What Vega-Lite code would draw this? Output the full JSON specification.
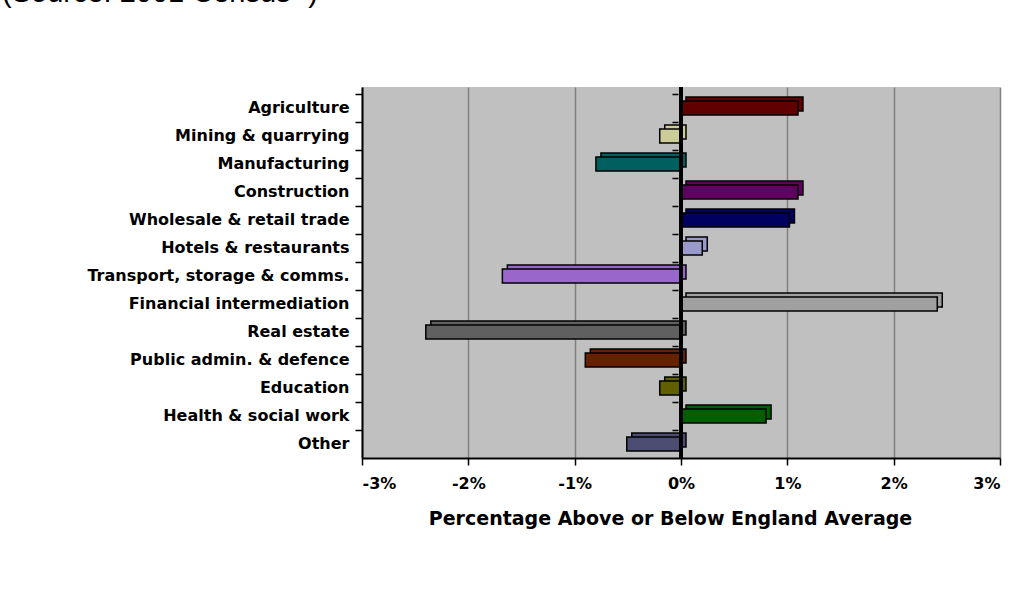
{
  "$schema": "https://vega.github.io/schema/vega-lite/v6.json",
  "width": 638,
  "height": 371,
  "autosize": {"type": "none"},
  "padding": {"left": 362, "top": 87, "right": 28, "bottom": 150},
  "background": "white",
  "title": {
    "text": "(Source: 2001 Census ¹)",
    "anchor": "start",
    "frame": "group",
    "font": "Liberation Sans",
    "fontSize": 29,
    "fontWeight": "normal",
    "color": "black",
    "dx": -360,
    "offset": 78
  },
  "data": {
    "values": [
      {"sector": "Agriculture", "value": 1.1},
      {"sector": "Mining & quarrying", "value": -0.2},
      {"sector": "Manufacturing", "value": -0.8},
      {"sector": "Construction", "value": 1.1},
      {"sector": "Wholesale & retail trade", "value": 1.02},
      {"sector": "Hotels & restaurants", "value": 0.2},
      {"sector": "Transport, storage & comms.", "value": -1.68},
      {"sector": "Financial intermediation", "value": 2.41},
      {"sector": "Real estate", "value": -2.4},
      {"sector": "Public admin. & defence", "value": -0.9},
      {"sector": "Education", "value": -0.2},
      {"sector": "Health & social work", "value": 0.8},
      {"sector": "Other", "value": -0.51}
    ]
  },
  "config": {
    "view": {"fill": "#C0C0C0", "stroke": null},
    "axis": {
      "labelFont": "DejaVu Sans",
      "labelFontWeight": "bold",
      "labelFontSize": 16,
      "labelColor": "black",
      "labelLimit": 0,
      "titleFont": "DejaVu Sans",
      "titleFontWeight": "bold",
      "titleFontSize": 19,
      "titleColor": "black"
    }
  },
  "resolve": {"axis": {"y": "independent"}},
  "layer": [
    {
      "mark": {"type": "bar", "height": {"band": 0.5}, "xOffset": 5, "yOffset": -4, "stroke": "black", "strokeWidth": 1.5},
      "encoding": {
        "y": {
          "field": "sector", "type": "nominal", "sort": null,
          "scale": {"paddingInner": 0, "paddingOuter": 0.125, "align": 1},
          "axis": {"orient": "left", "offset": -316, "labels": false, "domain": false, "ticks": true, "tickColor": "black", "tickSize": 6, "tickWidth": 1.5, "bandPosition": 0, "title": null, "grid": false, "zindex": 1}
        },
        "x": {"field": "value", "type": "quantitative"},
        "color": {
          "field": "sector", "type": "nominal", "legend": null,
          "scale": {
            "domain": ["Agriculture", "Mining & quarrying", "Manufacturing", "Construction", "Wholesale & retail trade", "Hotels & restaurants", "Transport, storage & comms.", "Financial intermediation", "Real estate", "Public admin. & defence", "Education", "Health & social work", "Other"],
            "range": ["#600000", "#CCCC99", "#006060", "#600060", "#000060", "#9999CC", "#9966CC", "#A0A0A0", "#606060", "#662200", "#606000", "#006000", "#4D4D73"]
          }
        }
      }
    },
    {
      "mark": {"type": "bar", "height": {"band": 0.5}, "stroke": "black", "strokeWidth": 1.5},
      "encoding": {
        "y": {
          "field": "sector", "type": "nominal", "sort": null,
          "axis": {"orient": "left", "bandPosition": 0, "labelPadding": 6, "ticks": true, "tickColor": "black", "tickSize": 7, "tickWidth": 1.5, "domain": true, "domainColor": "black", "domainWidth": 2, "title": null, "grid": false}
        },
        "x": {
          "field": "value", "type": "quantitative",
          "scale": {"domain": [-3, 3], "nice": false},
          "axis": {
            "values": [-3, -2, -1, 0, 1, 2, 3],
            "labelExpr": "datum.value + '%'",
            "labelFontSize": 16,
            "grid": true, "gridColor": "#808080", "gridWidth": 1.5,
            "domainColor": "black", "domainWidth": 2,
            "tickColor": "black", "tickSize": 7, "tickWidth": 1.5,
            "labelPadding": 10,
            "title": "Percentage Above or Below England Average",
            "titlePadding": 18,
            "titleX": 308
          }
        },
        "color": {
          "field": "sector", "type": "nominal", "legend": null,
          "scale": {
            "domain": ["Agriculture", "Mining & quarrying", "Manufacturing", "Construction", "Wholesale & retail trade", "Hotels & restaurants", "Transport, storage & comms.", "Financial intermediation", "Real estate", "Public admin. & defence", "Education", "Health & social work", "Other"],
            "range": ["#800000", "#FFFFCC", "#008080", "#800080", "#000080", "#CCCCFF", "#CC99FF", "#D4D4D4", "#808080", "#993300", "#808000", "#008000", "#666699"]
          }
        }
      }
    },
    {
      "mark": {"type": "rule", "color": "black", "strokeWidth": 2.5},
      "encoding": {"x": {"datum": 0}}
    }
  ]
}
